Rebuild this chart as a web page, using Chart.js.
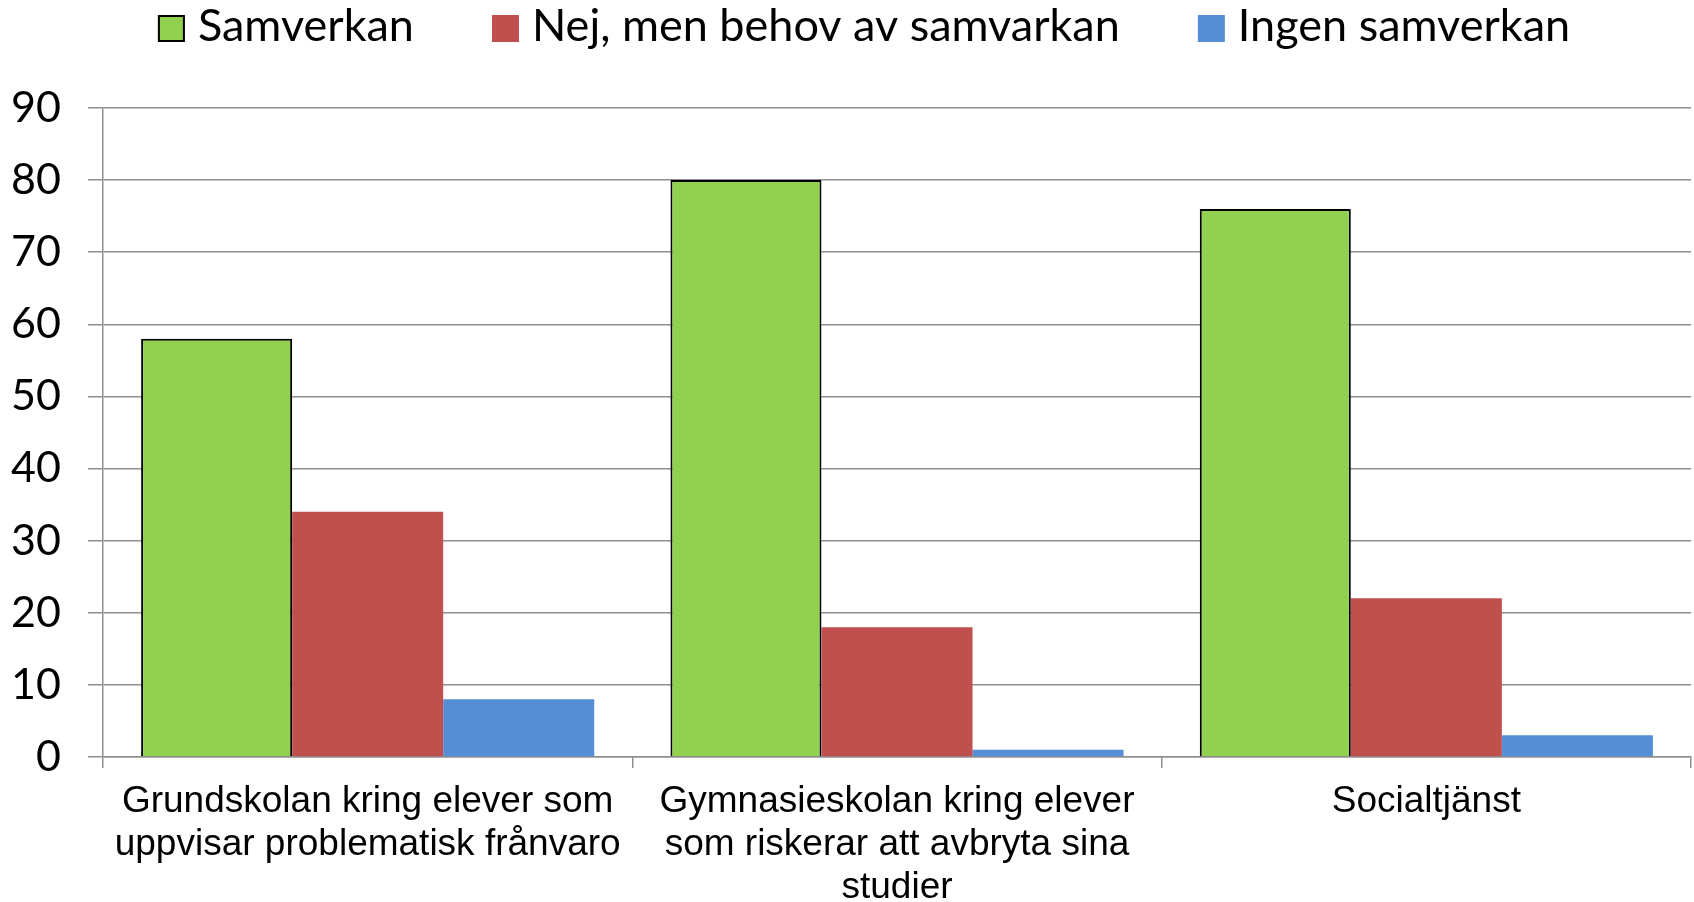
<!DOCTYPE html>
<html>
<head>
<meta charset="utf-8">
<script src="https://cdn.jsdelivr.net/npm/chart.js@4/dist/chart.umd.min.js"></script>
<style>
  html, body { margin: 0; padding: 0; background: #fff; }
  #wrap { width: 1694px; height: 902px; }
</style>
</head>
<body>
<div id="wrap"><canvas id="chart"></canvas></div>
<script>
// categories and values
const categories = [
  ['Grundskolan kring elever som', 'uppvisar problematisk frånvaro'],
  ['Gymnasieskolan kring elever', 'som riskerar att avbryta sina', 'studier'],
  'Socialtjänst'
];
const seriesNames = ['Samverkan', 'Nej, men behov av samvarkan', 'Ingen samverkan'];
const samverkan = [58, 80, 76];
const nejMenBehov = [34, 18, 22];
const ingenSamverkan = [8, 1, 3];
const yTicks = [0, 10, 20, 30, 40, 50, 60, 70, 80, 90];

const gridColor = '#8f8f8f';

// Excel style legend: small gap between box and text, wide gap between items
const topLegend = {
  id: 'topLegend',
  afterDraw(chart) {
    const ctx = chart.ctx;
    ctx.save();
    ctx.font = '45px Lato';
    ctx.textBaseline = 'alphabetic';
    const box = 27, gap = 13, space = 78;
    const items = chart.data.datasets.map(ds => ({
      text: ds.label,
      fill: ds.backgroundColor,
      border: ds.borderWidth ? ds.borderColor : null,
      w: ctx.measureText(ds.label).width
    }));
    const total = items.reduce((s, it) => s + box + gap + it.w, 0) + space * (items.length - 1);
    let x = chart.width / 2 + 17 - total / 2;
    items.forEach(it => {
      ctx.fillStyle = it.fill;
      ctx.fillRect(x, 15, box, box);
      if (it.border) {
        ctx.strokeStyle = it.border;
        ctx.lineWidth = 2;
        ctx.strokeRect(x + 1, 16, box - 2, box - 2);
      }
      ctx.fillStyle = '#000';
      ctx.fillText(it.text, x + box + gap, 41);
      x += box + gap + it.w + space;
    });
    ctx.restore();
  }
};

new Chart(document.getElementById('chart'), {
  type: 'bar',
  data: {
    labels: categories,
    datasets: [
      { label: seriesNames[0], data: samverkan, backgroundColor: '#92D050', borderColor: '#000', borderWidth: 2 },
      { label: seriesNames[1], data: nejMenBehov, backgroundColor: '#C0504D', borderWidth: 0 },
      { label: seriesNames[2], data: ingenSamverkan, backgroundColor: '#558ED5', borderWidth: 0 }
    ]
  },
  options: {
    responsive: true,
    maintainAspectRatio: false,
    animation: false,
    datasets: { bar: { categoryPercentage: 0.856, barPercentage: 1.0 } },
    layout: { padding: { top: 108, left: 7, right: 3, bottom: 0 } },
    plugins: {
      legend: { display: false },
      tooltip: { enabled: false }
    },
    scales: {
      x: {
        grid: { drawOnChartArea: false, drawTicks: true, tickLength: 11, color: gridColor, lineWidth: 1.5 },
        border: { display: true, color: gridColor, width: 1.5 },
        ticks: {
          color: '#000',
          font: { family: '"Liberation Sans", Arial, sans-serif', size: 37, lineHeight: 1.16 },
          padding: 12,
          maxRotation: 0,
          autoSkip: false
        },
        // the wide labels would otherwise push the plot in from the left
        afterFit: scale => { scale.paddingLeft = 0; scale.paddingRight = 0; scale.height = 145; }
      },
      y: {
        min: 0,
        max: 90,
        afterBuildTicks: axis => { axis.ticks = yTicks.map(v => ({ value: v })); },
        afterFit: scale => { scale.width = 96; },
        grid: { color: gridColor, lineWidth: 1.5, tickLength: 15 },
        border: { display: true, color: gridColor, width: 1.5 },
        ticks: {
          color: '#000',
          font: { family: 'Lato, sans-serif', size: 43 },
          padding: 27
        }
      }
    }
  },
  plugins: [topLegend]
});
</script>
</body>
</html>
